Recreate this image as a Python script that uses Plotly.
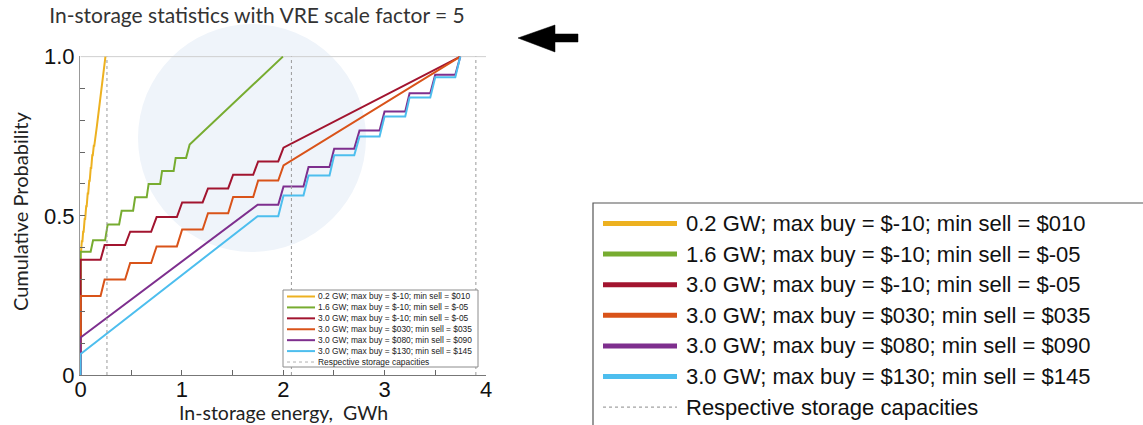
import plotly.graph_objects as go

# ---------------- data ----------------
title_text = "In-storage statistics with VRE scale factor = 5"
x_title = "In-storage energy,  GWh"
y_title = "Cumulative Probability"

series_labels = [
    "0.2 GW; max buy = $-10; min sell = $010",
    "1.6 GW; max buy = $-10; min sell = $-05",
    "3.0 GW; max buy = $-10; min sell = $-05",
    "3.0 GW; max buy = $030; min sell = $035",
    "3.0 GW; max buy = $080; min sell = $090",
    "3.0 GW; max buy = $130; min sell = $145",
]
capacity_label = "Respective storage capacities"
series_colors = ["#EDB120", "#77AC30", "#A2142F", "#D95319", "#7E2F8E", "#4DBEEE"]

yellow_x = [0, 0, 0.005, 0.012, 0.018, 0.025, 0.03, 0.04, 0.045, 0.055, 0.06, 0.07, 0.075,
            0.085, 0.09, 0.10, 0.105, 0.115, 0.12, 0.13, 0.135, 0.16, 0.245]
yellow_y = [0, 0.39, 0.39, 0.42, 0.42, 0.45, 0.45, 0.49, 0.49, 0.53, 0.53, 0.57, 0.57,
            0.61, 0.61, 0.65, 0.65, 0.69, 0.69, 0.72, 0.72, 0.78, 1.0]

green_x = [0, 0, 0.099, 0.123, 0.242, 0.267, 0.380, 0.405, 0.518, 0.538, 0.652, 0.671,
           0.785, 0.804, 0.918, 0.938, 1.041, 1.076, 1.996]
green_y = [0, 0.387, 0.387, 0.423, 0.423, 0.473, 0.473, 0.516, 0.516, 0.558, 0.558, 0.600,
           0.600, 0.641, 0.641, 0.682, 0.682, 0.724, 1.0]

red_x = [0, 0, 0.197, 0.237, 0.439, 0.489, 0.696, 0.750, 0.950, 1.002, 1.204, 1.257,
         1.456, 1.505, 1.703, 1.752, 1.950, 2.002, 3.746]
red_y = [0, 0.362, 0.362, 0.408, 0.408, 0.450, 0.450, 0.496, 0.496, 0.542, 0.542, 0.586,
         0.586, 0.629, 0.629, 0.671, 0.671, 0.714, 1.0]

orange_x = [0, 0, 0.197, 0.237, 0.439, 0.489, 0.696, 0.750, 0.950, 1.002, 1.204, 1.257,
            1.456, 1.505, 1.703, 1.752, 1.950, 2.002, 3.746]
orange_y = [0, 0.248, 0.248, 0.300, 0.300, 0.352, 0.352, 0.404, 0.404, 0.457, 0.457, 0.508,
            0.508, 0.559, 0.559, 0.611, 0.611, 0.658, 1.0]

purple_x = [0, 0, 1.747, 1.950, 2.002, 2.199, 2.249, 2.456, 2.502, 2.700, 2.752, 2.950,
            2.999, 3.203, 3.246, 3.450, 3.499, 3.697, 3.746]
purple_y = [0, 0.118, 0.535, 0.535, 0.592, 0.592, 0.653, 0.653, 0.711, 0.711, 0.768, 0.768,
            0.828, 0.828, 0.885, 0.885, 0.943, 0.943, 1.0]

blue_x = [0, 0, 1.747, 1.950, 2.002, 2.199, 2.249, 2.456, 2.502, 2.700, 2.752, 2.950,
          2.999, 3.203, 3.246, 3.450, 3.499, 3.697, 3.746]
blue_y = [0, 0.066, 0.499, 0.499, 0.564, 0.564, 0.627, 0.627, 0.690, 0.690, 0.749, 0.749,
          0.812, 0.812, 0.872, 0.872, 0.935, 0.935, 1.0]

capacities = [0.26, 2.08, 3.9]

x_tickvals = [0, 1, 2, 3, 4]
x_ticktext = ["0", "1", "2", "3", "4"]
x_minor = [0.5, 1.5, 2.5, 3.5]
y_tickvals = [0, 0.5, 1.0]
y_ticktext = ["0", "0.5", "1.0"]
y_minor = [0.1, 0.2, 0.3, 0.4, 0.6, 0.7, 0.8, 0.9]

series_x = [yellow_x, green_x, red_x, orange_x, purple_x, blue_x]
series_y = [yellow_y, green_y, red_y, orange_y, purple_y, blue_y]

# ---------------- layout geometry (pixels) ----------------
W, H = 1143, 425
PL, PR, PT, PB = 80, 486, 56, 375


def px(xp):
    return (xp - PL) / (PR - PL)


def py(yp):
    return (PB - yp) / (PB - PT)


fig = go.Figure()

for xs, ys, col, lab in zip(series_x, series_y, series_colors, series_labels):
    fig.add_trace(go.Scatter(x=xs, y=ys, mode="lines", name=lab,
                             line=dict(color=col, width=2),
                             showlegend=False, hoverinfo="skip"))

cap_x, cap_y = [], []
for c in capacities:
    cap_x += [c, c, None]
    cap_y += [0, 1, None]
fig.add_trace(go.Scatter(x=cap_x, y=cap_y, mode="lines", name=capacity_label,
                         line=dict(color="#9a9a9a", width=1, dash="dot"),
                         showlegend=False, hoverinfo="skip"))

shapes = []
annotations = []

# faint watermark circle
shapes.append(dict(type="circle", xref="paper", yref="paper",
                   x0=px(138), x1=px(366), y0=py(252), y1=py(24),
                   fillcolor="#eff4fa", line=dict(width=0), layer="below"))
# top frame line
shapes.append(dict(type="line", xref="x", yref="y", x0=0, x1=4, y0=1, y1=1,
                   line=dict(color="#cfcfcf", width=1), layer="below"))

all_labels = series_labels + [capacity_label]
all_colors = series_colors + ["#b0b0b0"]

# small in-plot legend
SL_TOP, SL_STEP, SL_FONT = 296.5, 10.92, 8.4
shapes.append(dict(type="rect", xref="paper", yref="paper",
                   x0=px(283), x1=px(478), y0=py(367), y1=py(290),
                   fillcolor="white", line=dict(color="#8c8c8c", width=1), layer="above"))
for i, col in enumerate(all_colors):
    yy = SL_TOP + SL_STEP * i
    last = i == len(series_labels)
    shapes.append(dict(type="line", xref="paper", yref="paper",
                       x0=px(287), x1=px(315), y0=py(yy), y1=py(yy),
                       line=dict(color=col, width=1 if last else 2,
                                 dash="dot" if last else "solid"), layer="above"))
annotations.append(dict(text="<br>".join(all_labels), xref="paper", yref="paper",
                        x=px(317), y=py(SL_TOP + SL_STEP * (len(all_labels) - 1) / 2),
                        xanchor="left", yanchor="middle", align="left",
                        showarrow=False, borderpad=0,
                        font=dict(family="Liberation Sans", size=SL_FONT, color="#222")))

# large legend (right)
shapes.append(dict(type="rect", xref="paper", yref="paper",
                   x0=px(593), x1=px(1160), y0=py(440), y1=py(203),
                   fillcolor="white", line=dict(color="#555", width=1.2), layer="above"))
for i, (lab, col) in enumerate(zip(all_labels, all_colors)):
    yy = 223.5 + 30.6 * i
    last = i == len(series_labels)
    shapes.append(dict(type="line", xref="paper", yref="paper",
                       x0=px(603), x1=px(677), y0=py(yy), y1=py(yy),
                       line=dict(color="#8a8a8a" if last else col, width=1 if last else 5,
                                 dash="dot" if last else "solid"),
                       layer="above"))
    annotations.append(dict(text=lab, xref="paper", yref="paper",
                            x=px(684), y=py(yy), xanchor="left", yanchor="middle",
                            showarrow=False,
                            font=dict(family="Liberation Sans", size=22, color="#111")))

# arrow
arrow_pts = [(518, 38), (555, 25), (555, 34), (578, 34), (578, 42), (555, 42), (555, 52)]
path = "M " + " L ".join(f"{px(a):.5f},{py(b):.5f}" for a, b in arrow_pts) + " Z"
shapes.append(dict(type="path", xref="paper", yref="paper", path=path,
                   fillcolor="black", line=dict(color="black", width=0.5)))

# axis titles
annotations.append(dict(text=x_title, xref="paper", yref="paper",
                        x=px(283), y=py(425), showarrow=False, borderpad=0,
                        xanchor="center", yanchor="bottom",
                        font=dict(family="Lato", size=19.5, color="#222")))
annotations.append(dict(text=y_title, xref="paper", yref="paper",
                        x=px(20), y=py(212), showarrow=False, textangle=-90,
                        xanchor="center", yanchor="middle",
                        font=dict(family="Lato", size=20, color="#222")))

fig.update_layout(
    width=W, height=H,
    margin=dict(l=PL, r=W - PR, t=PT, b=H - PB, pad=0),
    paper_bgcolor="white", plot_bgcolor="white",
    showlegend=False,
    title=dict(text=title_text, x=257 / W, xanchor="center",
               y=1 - 16 / H, yanchor="middle",
               font=dict(family="Lato", size=21, color="#333")),
    xaxis=dict(range=[-0.006, 4], tickmode="array", tickvals=x_tickvals, ticktext=x_ticktext,
               ticks="inside", ticklen=5, tickcolor="#666", showline=True, linecolor="#777",
               linewidth=1, showgrid=False, zeroline=False, ticklabelstandoff=-5,
               minor=dict(tickmode="array", tickvals=x_minor, ticks="inside", ticklen=5,
                          tickcolor="#666", showgrid=False),
               tickfont=dict(family="Liberation Sans", size=22, color="#111")),
    yaxis=dict(range=[0, 1.002], tickmode="array", tickvals=y_tickvals, ticktext=y_ticktext,
               ticks="inside", ticklen=5, tickcolor="#666", showline=True, linecolor="#999",
               linewidth=1, showgrid=False, zeroline=False,
               minor=dict(tickmode="array", tickvals=y_minor, ticks="inside", ticklen=5,
                          tickcolor="#666", showgrid=False),
               tickfont=dict(family="Liberation Sans", size=22, color="#111")),
    shapes=shapes,
    annotations=annotations,
)

fig.write_html("out.html", config={"displayModeBar": False},
               post_script="document.body.style.margin='0px';document.body.style.overflow='hidden';")
